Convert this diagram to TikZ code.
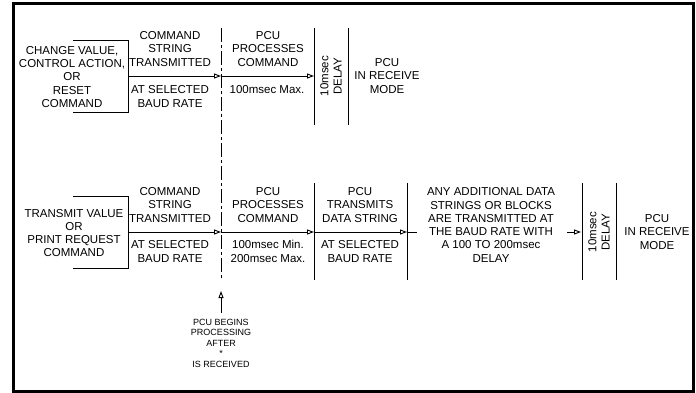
\documentclass[tikz,border=0pt]{standalone}
\usepackage{fontspec}
\setmainfont{Liberation Sans}
\usepackage{tikz}
\usetikzlibrary{positioning, arrows.meta, calc}

\tikzset{
  txt/.style={align=center, inner sep=0pt, font=\fontsize{11.5}{13.3}\selectfont},
  note/.style={align=center, inner sep=0pt, font=\fontsize{9}{10.5}\selectfont},
  flow/.style={-{Triangle[open, length=7pt, width=5pt]}},
  wire/.style={line width=0.9pt},
  divider/.style={line width=0.9pt, dash pattern=on 14pt off 3pt on 3pt off 3pt}
}

\begin{document}
\begin{tikzpicture}[x=1pt, y=-1pt, line width=0.9pt]
  \useasboundingbox (0,0) rectangle (696,393);
  % Outer frame
  \draw[line width=3pt] (13,3.5) rectangle (693,391);

  % Row 1: change value / control action / reset
  \coordinate (boxAtl) at (73,40);  \coordinate (boxAtr) at (128,40);
  \coordinate (boxAbr) at (128,112); \coordinate (boxAbl) at (73,112);
  \draw[wire] (boxAtl) -- (boxAtr) -- (boxAbr) -- (boxAbl);
  \node[txt] (reqA) at (72,77) {CHANGE VALUE,\\CONTROL ACTION,\\OR\\RESET\\COMMAND};
  \node[txt] (sendA) at (170,49) {COMMAND\\STRING\\TRANSMITTED};
  \node[txt] (baudA) at (170,96.5) {AT SELECTED\\BAUD RATE};
  \node[txt] (procA) at (268,49) {PCU\\PROCESSES\\COMMAND};
  \node[txt] (timeA) at (267,90) {100msec Max.};
  \node[txt, rotate=90] (delayA) at (331,76) {10msec\\DELAY};
  \node[txt] (rcvA) at (387,76) {PCU\\IN RECEIVE\\MODE};

  \coordinate (lineA0) at (128,76);
  \coordinate (lineA1) at (221,76);
  \coordinate (lineA2) at (314,76);
  \draw[flow] (lineA0) -- (lineA1);
  \draw[flow] (lineA1) -- (lineA2);
  \foreach \x/\n in {314/1, 348/2} {
    \coordinate (topA\n) at (\x,28);
    \coordinate (botA\n) at (\x,125);
    \draw[wire] (topA\n) -- (botA\n);
  }

  % Row 2: transmit value / print request
  \coordinate (boxBtl) at (73,196);  \coordinate (boxBtr) at (128,196);
  \coordinate (boxBbr) at (128,268); \coordinate (boxBbl) at (73,268);
  \draw[wire] (boxBtl) -- (boxBtr) -- (boxBbr) -- (boxBbl);
  \node[txt] (reqB) at (74,233) {TRANSMIT VALUE\\OR\\PRINT REQUEST\\COMMAND};
  \node[txt] (sendB) at (170,205) {COMMAND\\STRING\\TRANSMITTED};
  \node[txt] (baudB) at (170,251.5) {AT SELECTED\\BAUD RATE};
  \node[txt] (procB) at (268,205) {PCU\\PROCESSES\\COMMAND};
  \node[txt] (timeB) at (268,251.5) {100msec Min.\\200msec Max.};
  \node[txt] (dataB) at (360,205) {PCU\\TRANSMITS\\DATA STRING};
  \node[txt] (baudC) at (360,251.5) {AT SELECTED\\BAUD RATE};
  \node[txt] (moreB) at (491,225) {ANY ADDITIONAL DATA\\STRINGS OR BLOCKS\\ARE TRANSMITTED AT\\THE BAUD RATE WITH\\A 100 TO 200msec\\DELAY};
  \node[txt, rotate=90] (delayB) at (599,232) {10msec\\DELAY};
  \node[txt] (rcvB) at (657,232) {PCU\\IN RECEIVE\\MODE};

  \coordinate (lineB0) at (128,232);
  \coordinate (lineB1) at (221,232);
  \coordinate (lineB2) at (314,232);
  \coordinate (lineB3) at (407,232);
  \coordinate (lineB4) at (417,232);
  \coordinate (lineB5) at (567,232);
  \coordinate (lineB6) at (581,232);
  \draw[flow] (lineB0) -- (lineB1);
  \draw[flow] (lineB1) -- (lineB2);
  \draw[flow] (lineB2) -- (lineB3);
  \draw[wire] (lineB3) -- (lineB4);
  \draw[flow] (lineB5) -- (lineB6);
  \foreach \x/\n in {314/1, 407/2, 582/3, 616/4} {
    \coordinate (topB\n) at (\x,183);
    \coordinate (botB\n) at (\x,280);
    \draw[wire] (topB\n) -- (botB\n);
  }

  % Dash-dot divider and start-of-processing note
  \coordinate (divTop) at (221,28);
  \coordinate (divBot) at (221,280);
  \draw[divider] (divTop) -- (divBot);
  \node[note] (startNote) at (221,343) {PCU BEGINS\\PROCESSING\\AFTER\\*\\IS RECEIVED};
  \coordinate (noteTail) at (221,313);
  \coordinate (noteTip) at (221,291);
  \draw[flow] (noteTail) -- (noteTip);
\end{tikzpicture}
\end{document}
